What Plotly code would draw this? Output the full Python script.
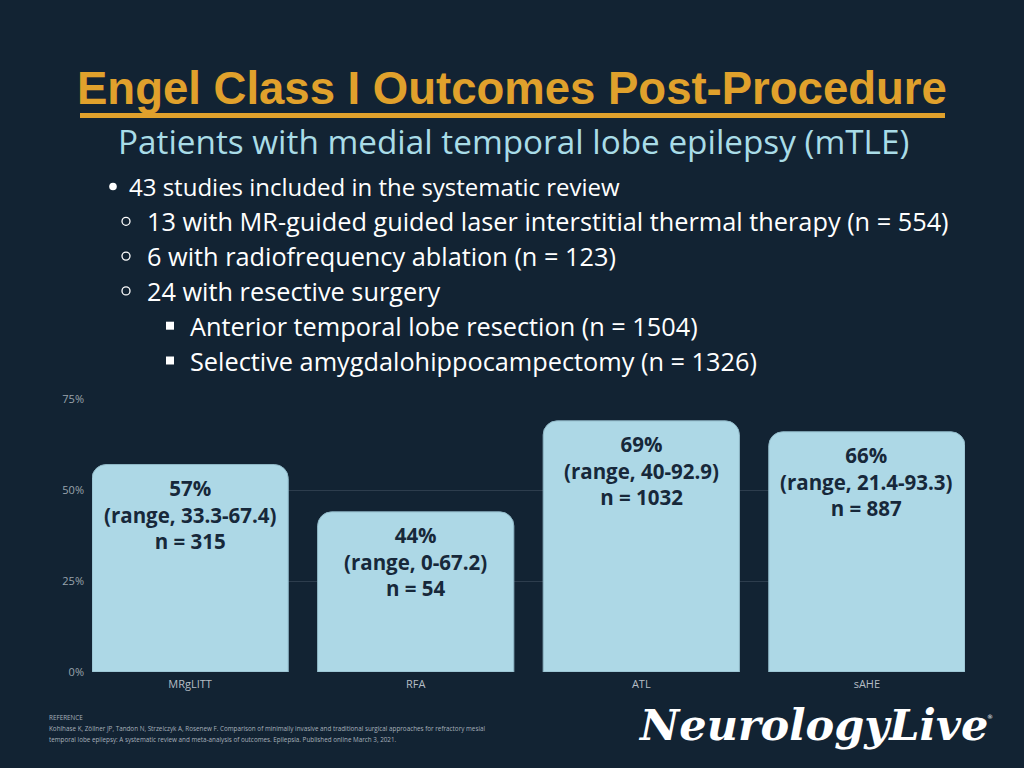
import plotly.graph_objects as go

# ---- data ----
categories = ["MRgLITT", "RFA", "ATL", "sAHE"]
engel_pct = [57, 44, 69, 66]
ranges = ["33.3-67.4", "0-67.2", "40-92.9", "21.4-93.3"]
n_patients = [315, 54, 1032, 887]
y_ticks = [0, 25, 50, 75]
y_tick_labels = ["0%", "25%", "50%", "75%"]

title = "Engel Class I Outcomes Post-Procedure"
subtitle = "Patients with medial temporal lobe epilepsy (mTLE)"
bullets = [
    (1, "43 studies included in the systematic review"),
    (2, "13 with MR-guided guided laser interstitial thermal therapy (n = 554)"),
    (2, "6 with radiofrequency ablation (n = 123)"),
    (2, "24 with resective surgery"),
    (3, "Anterior temporal lobe resection (n = 1504)"),
    (3, "Selective amygdalohippocampectomy (n = 1326)"),
]
reference_lines = [
    "REFERENCE",
    "Kohlhase K, Zöllner JP, Tandon N, Strzelczyk A, Rosenew F. Comparison of minimally invasive and traditional surgical approaches for refractory mesial",
    "temporal lobe epilepsy: A systematic review and meta-analysis of outcomes. Epilepsia. Published online March 3, 2021.",
]
logo = "NeurologyLive"

W, H = 1024, 768
BG = "#122333"
GOLD = "#E0A12C"
LIGHT = "#ADD8E6"
DARK = "#17283A"


def px(x):
    return x / W


def py(y):
    return 1 - y / H


x_pos = list(range(len(categories)))
bar_w = 0.87

fig = go.Figure()
fig.add_trace(go.Bar(
    x=x_pos, y=engel_pct, width=bar_w,
    marker=dict(color=LIGHT, line=dict(color="#8FB7C6", width=1)),
    hoverinfo="skip",
))

annotations = []
for i, (v, r, n) in enumerate(zip(engel_pct, ranges, n_patients)):
    annotations.append(dict(
        x=i, y=v, xref="x", yref="y", yanchor="middle", xanchor="center",
        yshift=-50, showarrow=False, align="center",
        text=f"<b>{v}%<br>(range, {r})<br>n = {n}</b>",
        font=dict(family="Open Sans", size=20.5, color=DARK),
    ))

# title
annotations.append(dict(
    x=px(512), y=py(89), xref="paper", yref="paper", xanchor="center", yanchor="middle",
    showarrow=False, text=f"<b>{title}</b>",
    font=dict(family="Liberation Sans", size=45.5, color=GOLD),
))
annotations.append(dict(
    x=px(513), y=py(141.5), xref="paper", yref="paper", xanchor="center", yanchor="middle",
    showarrow=False, text=subtitle,
    font=dict(family="Open Sans", size=33.3, color="#A9DCE7"),
))

text_x = {1: 127, 2: 145, 3: 188}
text_size = {1: 24, 2: 25.3, 3: 25.3}
line_y0, line_dy = 186.5, 34.8
shapes = []
for k, (lvl, txt) in enumerate(bullets):
    yc = line_y0 + k * line_dy
    annotations.append(dict(
        x=px(text_x[lvl]), y=py(yc), xref="paper", yref="paper", xanchor="left", yanchor="middle",
        showarrow=False, text=txt,
        font=dict(family="Open Sans", size=text_size[lvl], color="#FFFFFF"),
    ))
    if lvl == 1:
        cx, r = 113, 3.8
        shapes.append(dict(type="circle", xref="paper", yref="paper",
                           x0=px(cx - r), x1=px(cx + r), y0=py(yc + r), y1=py(yc - r),
                           fillcolor="#FFFFFF", line=dict(width=0)))
    elif lvl == 2:
        cx, r = 126, 4.0
        shapes.append(dict(type="circle", xref="paper", yref="paper",
                           x0=px(cx - r), x1=px(cx + r), y0=py(yc + r), y1=py(yc - r),
                           fillcolor="rgba(0,0,0,0)", line=dict(width=1.3, color="#FFFFFF")))
    else:
        cx, r = 170, 4.0
        shapes.append(dict(type="rect", xref="paper", yref="paper",
                           x0=px(cx - r), x1=px(cx + r), y0=py(yc + r), y1=py(yc - r),
                           fillcolor="#FFFFFF", line=dict(width=0)))

# title underline
shapes.append(dict(type="line", xref="paper", yref="paper",
                   x0=px(80), x1=px(945), y0=py(115.5), y1=py(115.5),
                   line=dict(color=GOLD, width=5)))

# reference
ref_y = [717, 728.5, 739.5]
for t, yy in zip(reference_lines, ref_y):
    annotations.append(dict(
        x=px(47), y=py(yy), xref="paper", yref="paper", xanchor="left", yanchor="middle",
        showarrow=False, text=t,
        font=dict(family="Open Sans", size=6.3, color="#A7B0BA"),
    ))

# logo
annotations.append(dict(
    x=px(636), y=py(725), xref="paper", yref="paper", xanchor="left", yanchor="middle",
    showarrow=False, text=f"<b><i>{logo}</i></b>",
    font=dict(family="DejaVu Serif", size=43, color="#FFFFFF"),
))
annotations.append(dict(
    x=px(990), y=py(716), xref="paper", yref="paper", xanchor="center", yanchor="middle",
    showarrow=False, text="®",
    font=dict(family="DejaVu Sans", size=6, color="#FFFFFF"),
))

fig.update_layout(
    width=W, height=H, autosize=False,
    margin=dict(l=0, r=0, t=0, b=0, pad=0),
    paper_bgcolor=BG, plot_bgcolor=BG,
    showlegend=False,
    barcornerradius=14,
    annotations=annotations, shapes=shapes,
    xaxis=dict(domain=[px(92), px(965)], range=[-bar_w / 2, 3 + bar_w / 2],
               tickvals=x_pos, ticktext=categories, showgrid=False, zeroline=False,
               showline=False, ticks="", fixedrange=True, automargin=False,
               ticklabelstandoff=4,
               tickfont=dict(family="Open Sans", size=11, color="#B5BDC5")),
    yaxis=dict(domain=[py(672), py(399)], range=[0, 75], tickvals=y_ticks,
               ticktext=y_tick_labels, showgrid=True, gridcolor="#2D3D4D", gridwidth=1,
               zeroline=False, showline=False, ticks="", fixedrange=True, automargin=False,
               ticklabelstandoff=7,
               tickfont=dict(family="Open Sans", size=11, color="#9AA3AD")),
)

fig.write_html("out.html", post_script="document.body.style.margin='0';",
               config={"displayModeBar": False})
